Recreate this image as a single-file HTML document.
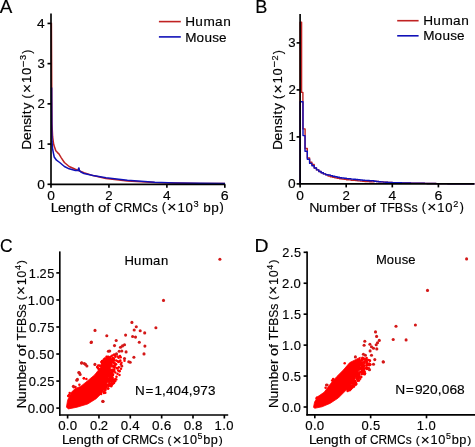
<!DOCTYPE html>
<html><head><meta charset="utf-8"><style>
html,body{margin:0;padding:0;background:#fff;width:475px;height:447px;overflow:hidden}
svg{display:block;will-change:transform}
text{font-family:"Liberation Sans", sans-serif;fill:#000;stroke:#000;stroke-width:0.15px}
</style></head><body>
<svg width="475" height="447" viewBox="0 0 475 447">
<rect width="475" height="447" fill="#fff"/>
<path d="M51.4,22.7 L51.6,60 L51.8,100 L52.0,124 L52.6,136.7 L53.7,144.5 L55.8,150.8 L57.5,152.6 L58.9,153.9 L61.3,157.8 L64.4,162.5 L69.1,166.5 L75.4,169.3 L84,172.7 L93,175.6 L106,178.6 L127.4,181.0 L154.7,182.6 L175,183.1 L200,183.4 L225,183.6" stroke="#c02222" stroke-width="1.5" fill="none" stroke-linejoin="round"/>
<path d="M51.6,87.6 L51.7,110 L51.8,130 L52.0,141.4 L52.6,149.2 L54.2,157 L56.5,160.2 L59.7,162.5 L64.4,166.5 L69.1,168.8 L75.4,170.4 L78.1,170.6 L78.6,168.2 L79.0,168.0 L79.4,170.6 L80.9,172 L84,173.5 L93,175.4 L106,177.7 L127.4,180.3 L154.7,182.2 L175,182.9 L200,183.3 L225,183.5" stroke="#1010b8" stroke-width="1.5" fill="none" stroke-linejoin="round"/>
<line x1="51.0" y1="13.4" x2="51.0" y2="185.05" stroke="#000" stroke-width="1.65"/>
<line x1="50.25" y1="184.3" x2="225.2" y2="184.3" stroke="#000" stroke-width="1.65"/>
<line x1="47.5" y1="184.3" x2="51.0" y2="184.3" stroke="#000" stroke-width="1.65"/>
<g transform="translate(44.20,188.85)"><text transform="scale(1.077,1)" xml:space="preserve"><tspan x="-6.49" y="0.00" font-size="12.78">0</tspan></text></g>
<line x1="47.5" y1="144.08" x2="51.0" y2="144.08" stroke="#000" stroke-width="1.65"/>
<g transform="translate(44.20,148.63)"><text transform="scale(1.028,1)" xml:space="preserve"><tspan x="-6.38" y="0.00" font-size="12.78">1</tspan></text></g>
<line x1="47.5" y1="103.86000000000001" x2="51.0" y2="103.86000000000001" stroke="#000" stroke-width="1.65"/>
<g transform="translate(44.20,108.41)"><text transform="scale(1.038,1)" xml:space="preserve"><tspan x="-6.35" y="0.00" font-size="12.78">2</tspan></text></g>
<line x1="47.5" y1="63.640000000000015" x2="51.0" y2="63.640000000000015" stroke="#000" stroke-width="1.65"/>
<g transform="translate(44.20,68.19)"><text transform="scale(1.034,1)" xml:space="preserve"><tspan x="-6.43" y="0.00" font-size="12.78">3</tspan></text></g>
<line x1="47.5" y1="23.420000000000016" x2="51.0" y2="23.420000000000016" stroke="#000" stroke-width="1.65"/>
<g transform="translate(44.20,27.97)"><text transform="scale(1.077,1)" xml:space="preserve"><tspan x="-6.61" y="0.00" font-size="12.78">4</tspan></text></g>
<line x1="51.0" y1="184.3" x2="51.0" y2="187.8" stroke="#000" stroke-width="1.65"/>
<g transform="translate(51.00,199.60)"><text transform="scale(1.077,1)" xml:space="preserve"><tspan x="-3.55" y="0.00" font-size="12.78">0</tspan></text></g>
<line x1="108.94" y1="184.3" x2="108.94" y2="187.8" stroke="#000" stroke-width="1.65"/>
<g transform="translate(108.94,199.60)"><text transform="scale(1.038,1)" xml:space="preserve"><tspan x="-3.55" y="0.00" font-size="12.78">2</tspan></text></g>
<line x1="166.88" y1="184.3" x2="166.88" y2="187.8" stroke="#000" stroke-width="1.65"/>
<g transform="translate(166.88,199.60)"><text transform="scale(1.077,1)" xml:space="preserve"><tspan x="-3.51" y="0.00" font-size="12.78">4</tspan></text></g>
<line x1="224.82" y1="184.3" x2="224.82" y2="187.8" stroke="#000" stroke-width="1.65"/>
<g transform="translate(224.82,199.60)"><text transform="scale(1.114,1)" xml:space="preserve"><tspan x="-3.60" y="0.00" font-size="12.78">6</tspan></text></g>
<g transform="translate(52.30,211.50)"><text transform="scale(1.123,1)" xml:space="preserve"><tspan x="-1.32 5.02 11.97 18.95 26.46 30.44 37.50" y="0.00" font-size="12.7">Length </tspan></text><text transform="scale(1.178,1)" xml:space="preserve"><tspan x="38.84 45.85 49.36" y="0.00" font-size="12.7">of </tspan></text><text transform="scale(0.974,1)" xml:space="preserve"><tspan x="63.56 72.78 81.85 92.50 101.89 108.32" y="0.00" font-size="12.7">CRMCs </tspan></text><text transform="scale(1.039,1)" xml:space="preserve"><tspan x="105.47" y="-0.19" font-size="12.07">(</tspan><tspan x="110.72" y="0.86" font-size="15.24">×</tspan><tspan x="120.44 128.16" y="0.00" font-size="12.7">10</tspan><tspan x="135.86" y="-4.59" font-size="8.89">3</tspan><tspan x="141.32" y="0.00" font-size="12.7"> </tspan></text><text transform="scale(1.067,1)" xml:space="preserve"><tspan x="141.54 148.97" y="0.00" font-size="12.7">bp</tspan><tspan x="156.74" y="-0.19" font-size="12.07">)</tspan></text></g>
<g transform="translate(31.00,148.30) rotate(-90)"><text transform="scale(1.095,1)" xml:space="preserve"><tspan x="-1.30 7.59 14.66 21.60 27.78 31.18 35.37 41.87" y="0.00" font-size="12.59">Density </tspan></text><text transform="scale(1.029,1)" xml:space="preserve"><tspan x="48.43" y="-0.19" font-size="11.96">(</tspan><tspan x="53.69" y="0.86" font-size="15.1">×</tspan><tspan x="63.40 71.12" y="0.00" font-size="12.59">10</tspan><tspan x="78.87" y="-3.95" font-size="11.01">−</tspan><tspan x="85.85" y="-4.59" font-size="8.81">3</tspan><tspan x="91.95" y="-0.19" font-size="11.96">)</tspan></text></g>
<line x1="158.9" y1="21.6" x2="180.8" y2="21.6" stroke="#c02222" stroke-width="1.6"/>
<line x1="158.9" y1="36.9" x2="180.8" y2="36.9" stroke="#1010b8" stroke-width="1.6"/>
<g transform="translate(186.80,26.40)"><text transform="scale(1.064,1)" xml:space="preserve"><tspan x="-1.35 7.92 15.74 26.44 34.32" y="0.00" font-size="12.83">Human</tspan></text></g>
<g transform="translate(186.80,41.90)"><text transform="scale(1.055,1)" xml:space="preserve"><tspan x="-1.36 9.24 16.67 24.05 30.43" y="0.00" font-size="12.83">Mouse</tspan></text></g>
<g transform="translate(0.10,13.00)"><text transform="scale(1.029,1)" xml:space="preserve" stroke="#000" stroke-width="0.35"><tspan x="-0.27" y="0.00" font-size="18.33">A</tspan></text></g>
<path d="M300.1,183.6 V22.3 H301.6 V92.4 H302.9 V128.9 H305.1 V148.5 H307.3 V158.0 H309.6 V162.2 H311.9 V164.5 H314.2 V168.0 H316.5 V169.9 H318.8 V171.5 H321.1 V172.7 H323.4 V173.9 H325.7 V174.7 H328.0 V176.1 H330.3 V176.7 H332.6 V177.3 H334.9 V177.9 H337.2 V178.4 H339.5 V178.8 H341.8 V179.1 H344.1 V179.4 H346.4 V179.7 H348.7 V179.9 H351.0 V180.2 H353.3 V180.4 H355.6 V180.6 H357.9 V180.9 H360.2 V181.1 H362.5 V181.3 H364.8 V181.5 H367.1 V181.6 H369.4 V181.8 H371.7 V181.9 H374.0 V181.3 H376.3 V181.5 H378.6 V181.7 H380.9 V181.9 H383.2 V182.1 H385.5 V182.3 H387.8 V182.4 H390.1 V182.5 H392.4 V182.6 H394.7 V182.6 H397.0 V182.7 H399.3 V182.8 H401.6 V182.9 H403.9 V182.9 H406.2 V183.0 H408.5 V183.0 H410.8 V183.1 H413.1 V183.1 H415.4 V183.2 H417.7 V183.2 H420.0 V183.3 H422.3 V183.3 H424.6 V183.4 H426.9 V183.5 H429.2 V183.5 H431.5 V183.5 H433.8 V183.5 H436.1 V183.6 H438.4 V183.6 H440.7 V183.6 H443.0 V183.6 H445.3 V183.6 H447.6 V183.7 H449.9 V183.7 H452.2 V183.7 H454.5 V183.7 H456.8 V183.8 H459.1 V183.8 H461.4 V183.8 H463.7 V183.8 H466.0 V183.8 H468.3 V183.9 H470.6 V183.9 H472.9 V183.9 H474.5" stroke="#c02222" stroke-width="1.4" fill="none" stroke-linejoin="round" stroke-linejoin="miter"/>
<path d="M300.1,183.6 V101.8 H303.0 V135.6 H305.0 V151.3 H307.3 V159.2 H309.6 V163.4 H311.9 V165.7 H314.2 V168.0 H316.5 V169.9 H318.8 V171.5 H321.1 V172.7 H323.4 V173.9 H325.7 V174.7 H328.0 V175.0 H330.3 V175.6 H332.6 V176.2 H334.9 V176.8 H337.2 V177.3 H339.5 V177.7 H341.8 V178.0 H344.1 V178.3 H346.4 V178.6 H348.7 V178.8 H351.0 V179.1 H353.3 V179.3 H355.6 V179.5 H357.9 V179.8 H360.2 V180.0 H362.5 V180.2 H364.8 V180.4 H367.1 V180.5 H369.4 V180.7 H371.7 V180.8 H374.0 V181.3 H376.3 V181.5 H378.6 V181.7 H380.9 V181.9 H383.2 V182.1 H385.5 V182.3 H387.8 V182.4 H390.1 V182.5 H392.4 V182.6 H394.7 V182.6 H397.0 V182.7 H399.3 V182.8 H401.6 V182.9 H403.9 V182.9 H406.2 V183.0 H408.5 V183.0 H410.8 V183.1 H413.1 V183.1 H415.4 V183.2 H417.7 V183.2 H420.0 V183.3 H422.3 V183.3 H424.6 V183.4 H426.9 V183.5 H429.2 V183.5 H431.5 V183.5 H433.8 V183.5 H436.1 V183.6 H438.4 V183.6 H440.7 V183.6 H443.0 V183.6 H445.3 V183.6 H447.6 V183.7 H449.9 V183.7 H452.2 V183.7 H454.5 V183.7 H456.8 V183.8 H459.1 V183.8 H461.4 V183.8 H463.7 V183.8 H466.0 V183.8 H468.3 V183.9 H470.6 V183.9 H472.9 V183.9 H474.5" stroke="#1010b8" stroke-width="1.4" fill="none" stroke-linejoin="round" stroke-linejoin="miter"/>
<line x1="300.1" y1="14.0" x2="300.1" y2="184.65" stroke="#000" stroke-width="1.65"/>
<line x1="299.35" y1="183.9" x2="474.4" y2="183.9" stroke="#000" stroke-width="1.65"/>
<line x1="296.6" y1="183.9" x2="300.1" y2="183.9" stroke="#000" stroke-width="1.65"/>
<g transform="translate(295.00,188.45)"><text transform="scale(1.077,1)" xml:space="preserve"><tspan x="-6.49" y="0.00" font-size="12.78">0</tspan></text></g>
<line x1="296.6" y1="136.9" x2="300.1" y2="136.9" stroke="#000" stroke-width="1.65"/>
<g transform="translate(295.00,141.45)"><text transform="scale(1.028,1)" xml:space="preserve"><tspan x="-6.38" y="0.00" font-size="12.78">1</tspan></text></g>
<line x1="296.6" y1="89.9" x2="300.1" y2="89.9" stroke="#000" stroke-width="1.65"/>
<g transform="translate(295.00,94.45)"><text transform="scale(1.038,1)" xml:space="preserve"><tspan x="-6.35" y="0.00" font-size="12.78">2</tspan></text></g>
<line x1="296.6" y1="42.900000000000006" x2="300.1" y2="42.900000000000006" stroke="#000" stroke-width="1.65"/>
<g transform="translate(295.00,47.45)"><text transform="scale(1.034,1)" xml:space="preserve"><tspan x="-6.43" y="0.00" font-size="12.78">3</tspan></text></g>
<line x1="300.1" y1="183.9" x2="300.1" y2="187.4" stroke="#000" stroke-width="1.65"/>
<g transform="translate(300.10,199.50)"><text transform="scale(1.077,1)" xml:space="preserve"><tspan x="-3.55" y="0.00" font-size="12.78">0</tspan></text></g>
<line x1="346.20000000000005" y1="183.9" x2="346.20000000000005" y2="187.4" stroke="#000" stroke-width="1.65"/>
<g transform="translate(346.20,199.50)"><text transform="scale(1.038,1)" xml:space="preserve"><tspan x="-3.55" y="0.00" font-size="12.78">2</tspan></text></g>
<line x1="392.3" y1="183.9" x2="392.3" y2="187.4" stroke="#000" stroke-width="1.65"/>
<g transform="translate(392.30,199.50)"><text transform="scale(1.077,1)" xml:space="preserve"><tspan x="-3.51" y="0.00" font-size="12.78">4</tspan></text></g>
<line x1="438.40000000000003" y1="183.9" x2="438.40000000000003" y2="187.4" stroke="#000" stroke-width="1.65"/>
<g transform="translate(438.40,199.50)"><text transform="scale(1.114,1)" xml:space="preserve"><tspan x="-3.60" y="0.00" font-size="12.78">6</tspan></text></g>
<g transform="translate(310.90,211.50)"><text transform="scale(1.119,1)" xml:space="preserve"><tspan x="-1.51 7.24 14.52 25.30 32.25 39.57 43.79" y="0.00" font-size="12.69">Number </tspan></text><text transform="scale(1.178,1)" xml:space="preserve"><tspan x="44.68 51.69 55.20" y="0.00" font-size="12.69">of </tspan></text><text transform="scale(0.977,1)" xml:space="preserve"><tspan x="70.67 78.25 85.96 94.49 102.97 109.40" y="0.00" font-size="12.69">TFBSs </tspan></text><text transform="scale(1.025,1)" xml:space="preserve"><tspan x="108.19" y="-0.19" font-size="12.06">(</tspan><tspan x="113.53" y="0.86" font-size="15.23">×</tspan><tspan x="123.38 131.20" y="0.00" font-size="12.69">10</tspan><tspan x="138.86" y="-4.59" font-size="8.89">2</tspan><tspan x="145.16" y="-0.19" font-size="12.06">)</tspan></text></g>
<g transform="translate(282.40,148.70) rotate(-90)"><text transform="scale(1.095,1)" xml:space="preserve"><tspan x="-1.31 7.59 14.65 21.59 27.78 31.18 35.37 41.87" y="0.00" font-size="12.65">Density </tspan></text><text transform="scale(1.029,1)" xml:space="preserve"><tspan x="48.40" y="-0.19" font-size="12.02">(</tspan><tspan x="53.66" y="0.86" font-size="15.18">×</tspan><tspan x="63.37 71.08" y="0.00" font-size="12.65">10</tspan><tspan x="78.83" y="-3.95" font-size="11.07">−</tspan><tspan x="85.69" y="-4.59" font-size="8.86">2</tspan><tspan x="91.91" y="-0.19" font-size="12.02">)</tspan></text></g>
<line x1="397.2" y1="20.7" x2="418.6" y2="20.7" stroke="#c02222" stroke-width="1.6"/>
<line x1="397.2" y1="35.8" x2="418.6" y2="35.8" stroke="#1010b8" stroke-width="1.6"/>
<g transform="translate(424.80,24.90)"><text transform="scale(1.064,1)" xml:space="preserve"><tspan x="-1.35 7.92 15.74 26.44 34.32" y="0.00" font-size="12.83">Human</tspan></text></g>
<g transform="translate(424.80,40.40)"><text transform="scale(1.055,1)" xml:space="preserve"><tspan x="-1.36 9.24 16.67 24.05 30.43" y="0.00" font-size="12.83">Mouse</tspan></text></g>
<g transform="translate(256.90,12.90)"><text transform="scale(0.992,1)" xml:space="preserve" stroke="#000" stroke-width="0.35"><tspan x="-1.69" y="0.00" font-size="18.33">B</tspan></text></g>
<polygon points="66.4,407.2 67.6,400.2 71.1,392.6 74.9,388.8 80.9,386.2 87.1,381.2 94.5,375.0 100.6,367.4 104.7,359.4 108.9,357.2 111.0,362.6 110.0,373.2 106.8,383.8 102.6,392.3 96.2,398.7 87.7,404.0 77.0,407.2 68.5,408.9" fill="#ff0000" stroke="#ff0000" stroke-width="0.8" stroke-linejoin="round"/>
<circle cx="115.4" cy="356.8" r="1.25" fill="#ff0000"/>
<circle cx="114.3" cy="367.0" r="1.25" fill="#ff0000"/>
<circle cx="108.2" cy="388.4" r="1.25" fill="#ff0000"/>
<circle cx="109.5" cy="380.9" r="1.25" fill="#ff0000"/>
<circle cx="111.7" cy="370.6" r="1.25" fill="#ff0000"/>
<circle cx="113.8" cy="366.3" r="1.25" fill="#ff0000"/>
<circle cx="108.6" cy="380.3" r="1.25" fill="#ff0000"/>
<circle cx="110.3" cy="376.4" r="1.25" fill="#ff0000"/>
<circle cx="109.4" cy="385.0" r="1.25" fill="#ff0000"/>
<circle cx="112.2" cy="377.6" r="1.25" fill="#ff0000"/>
<circle cx="108.9" cy="378.9" r="1.25" fill="#ff0000"/>
<circle cx="115.1" cy="381.2" r="1.25" fill="#ff0000"/>
<circle cx="106.9" cy="384.4" r="1.25" fill="#ff0000"/>
<circle cx="114.4" cy="367.8" r="1.25" fill="#ff0000"/>
<circle cx="114.5" cy="366.9" r="1.25" fill="#ff0000"/>
<circle cx="118.8" cy="367.3" r="1.25" fill="#ff0000"/>
<circle cx="120.9" cy="364.3" r="1.25" fill="#ff0000"/>
<circle cx="109.5" cy="384.0" r="1.25" fill="#ff0000"/>
<circle cx="121.0" cy="368.8" r="1.25" fill="#ff0000"/>
<circle cx="105.1" cy="388.1" r="1.25" fill="#ff0000"/>
<circle cx="124.5" cy="360.7" r="1.25" fill="#ff0000"/>
<circle cx="112.1" cy="366.4" r="1.25" fill="#ff0000"/>
<circle cx="114.2" cy="369.5" r="1.25" fill="#ff0000"/>
<circle cx="107.8" cy="357.4" r="1.25" fill="#ff0000"/>
<circle cx="115.3" cy="372.6" r="1.25" fill="#ff0000"/>
<circle cx="111.4" cy="384.2" r="1.25" fill="#ff0000"/>
<circle cx="117.5" cy="373.8" r="1.25" fill="#ff0000"/>
<circle cx="112.6" cy="383.9" r="1.25" fill="#ff0000"/>
<circle cx="120.0" cy="355.9" r="1.25" fill="#ff0000"/>
<circle cx="111.9" cy="384.8" r="1.25" fill="#ff0000"/>
<circle cx="97.9" cy="367.9" r="1.25" fill="#ff0000"/>
<circle cx="108.8" cy="386.1" r="1.25" fill="#ff0000"/>
<circle cx="114.1" cy="365.5" r="1.25" fill="#ff0000"/>
<circle cx="110.9" cy="379.8" r="1.25" fill="#ff0000"/>
<circle cx="118.6" cy="357.7" r="1.25" fill="#ff0000"/>
<circle cx="114.0" cy="383.0" r="1.25" fill="#ff0000"/>
<circle cx="111.1" cy="363.0" r="1.25" fill="#ff0000"/>
<circle cx="112.9" cy="359.1" r="1.25" fill="#ff0000"/>
<circle cx="112.6" cy="358.9" r="1.25" fill="#ff0000"/>
<circle cx="106.9" cy="384.9" r="1.25" fill="#ff0000"/>
<circle cx="99.5" cy="365.6" r="1.25" fill="#ff0000"/>
<circle cx="118.5" cy="361.9" r="1.25" fill="#ff0000"/>
<circle cx="113.6" cy="362.7" r="1.25" fill="#ff0000"/>
<circle cx="112.4" cy="355.6" r="1.25" fill="#ff0000"/>
<circle cx="119.5" cy="374.9" r="1.25" fill="#ff0000"/>
<circle cx="102.2" cy="360.9" r="1.25" fill="#ff0000"/>
<circle cx="119.5" cy="371.3" r="1.25" fill="#ff0000"/>
<circle cx="112.4" cy="379.6" r="1.25" fill="#ff0000"/>
<circle cx="102.1" cy="363.0" r="1.25" fill="#ff0000"/>
<circle cx="110.7" cy="361.1" r="1.25" fill="#ff0000"/>
<circle cx="104.2" cy="389.0" r="1.25" fill="#ff0000"/>
<circle cx="106.7" cy="358.0" r="1.25" fill="#ff0000"/>
<circle cx="97.1" cy="367.1" r="1.25" fill="#ff0000"/>
<circle cx="110.9" cy="365.6" r="1.25" fill="#ff0000"/>
<circle cx="116.1" cy="364.3" r="1.25" fill="#ff0000"/>
<circle cx="114.2" cy="354.5" r="1.25" fill="#ff0000"/>
<circle cx="112.6" cy="362.1" r="1.25" fill="#ff0000"/>
<circle cx="109.8" cy="358.8" r="1.25" fill="#ff0000"/>
<circle cx="110.4" cy="385.3" r="1.25" fill="#ff0000"/>
<circle cx="114.8" cy="363.2" r="1.25" fill="#ff0000"/>
<circle cx="109.4" cy="357.6" r="1.25" fill="#ff0000"/>
<circle cx="101.1" cy="394.0" r="1.25" fill="#ff0000"/>
<circle cx="106.7" cy="385.9" r="1.25" fill="#ff0000"/>
<circle cx="104.9" cy="358.4" r="1.25" fill="#ff0000"/>
<circle cx="112.3" cy="377.3" r="1.25" fill="#ff0000"/>
<circle cx="112.6" cy="361.1" r="1.25" fill="#ff0000"/>
<circle cx="112.9" cy="358.0" r="1.25" fill="#ff0000"/>
<circle cx="103.7" cy="359.8" r="1.25" fill="#ff0000"/>
<circle cx="101.3" cy="361.9" r="1.25" fill="#ff0000"/>
<circle cx="113.0" cy="375.0" r="1.25" fill="#ff0000"/>
<circle cx="98.2" cy="365.5" r="1.25" fill="#ff0000"/>
<circle cx="119.5" cy="361.6" r="1.25" fill="#ff0000"/>
<circle cx="112.6" cy="370.4" r="1.25" fill="#ff0000"/>
<circle cx="111.0" cy="384.2" r="1.25" fill="#ff0000"/>
<circle cx="110.4" cy="377.1" r="1.25" fill="#ff0000"/>
<circle cx="101.2" cy="365.4" r="1.25" fill="#ff0000"/>
<circle cx="104.4" cy="359.3" r="1.25" fill="#ff0000"/>
<circle cx="110.0" cy="374.5" r="1.25" fill="#ff0000"/>
<circle cx="112.4" cy="373.0" r="1.25" fill="#ff0000"/>
<circle cx="111.7" cy="371.2" r="1.25" fill="#ff0000"/>
<circle cx="114.1" cy="360.3" r="1.25" fill="#ff0000"/>
<circle cx="109.7" cy="383.3" r="1.25" fill="#ff0000"/>
<circle cx="109.4" cy="381.0" r="1.25" fill="#ff0000"/>
<circle cx="112.2" cy="378.7" r="1.25" fill="#ff0000"/>
<circle cx="116.5" cy="376.7" r="1.25" fill="#ff0000"/>
<circle cx="105.3" cy="392.7" r="1.25" fill="#ff0000"/>
<circle cx="112.5" cy="380.7" r="1.25" fill="#ff0000"/>
<circle cx="117.5" cy="368.6" r="1.25" fill="#ff0000"/>
<circle cx="106.5" cy="385.5" r="1.25" fill="#ff0000"/>
<circle cx="109.8" cy="375.2" r="1.25" fill="#ff0000"/>
<circle cx="121.5" cy="362.7" r="1.25" fill="#ff0000"/>
<circle cx="113.4" cy="370.6" r="1.25" fill="#ff0000"/>
<circle cx="113.9" cy="358.6" r="1.25" fill="#ff0000"/>
<circle cx="111.7" cy="361.2" r="1.25" fill="#ff0000"/>
<circle cx="108.3" cy="356.8" r="1.25" fill="#ff0000"/>
<circle cx="110.8" cy="372.7" r="1.25" fill="#ff0000"/>
<circle cx="111.8" cy="362.6" r="1.25" fill="#ff0000"/>
<circle cx="114.2" cy="370.7" r="1.25" fill="#ff0000"/>
<circle cx="111.0" cy="385.8" r="1.25" fill="#ff0000"/>
<circle cx="117.7" cy="361.3" r="1.25" fill="#ff0000"/>
<circle cx="108.0" cy="388.6" r="1.25" fill="#ff0000"/>
<circle cx="116.7" cy="368.0" r="1.25" fill="#ff0000"/>
<circle cx="112.9" cy="379.7" r="1.25" fill="#ff0000"/>
<circle cx="112.2" cy="372.3" r="1.25" fill="#ff0000"/>
<circle cx="111.5" cy="374.6" r="1.25" fill="#ff0000"/>
<circle cx="111.8" cy="381.1" r="1.25" fill="#ff0000"/>
<circle cx="109.1" cy="384.6" r="1.25" fill="#ff0000"/>
<circle cx="114.7" cy="355.2" r="1.25" fill="#ff0000"/>
<circle cx="114.1" cy="380.3" r="1.25" fill="#ff0000"/>
<circle cx="103.9" cy="392.0" r="1.25" fill="#ff0000"/>
<circle cx="103.1" cy="362.5" r="1.25" fill="#ff0000"/>
<circle cx="110.8" cy="370.3" r="1.25" fill="#ff0000"/>
<circle cx="108.2" cy="381.8" r="1.25" fill="#ff0000"/>
<circle cx="113.4" cy="371.1" r="1.25" fill="#ff0000"/>
<circle cx="113.3" cy="359.0" r="1.25" fill="#ff0000"/>
<circle cx="116.3" cy="379.5" r="1.25" fill="#ff0000"/>
<circle cx="111.0" cy="359.2" r="1.25" fill="#ff0000"/>
<circle cx="112.9" cy="374.6" r="1.25" fill="#ff0000"/>
<circle cx="110.0" cy="374.3" r="1.25" fill="#ff0000"/>
<circle cx="109.8" cy="376.4" r="1.25" fill="#ff0000"/>
<circle cx="112.1" cy="384.0" r="1.25" fill="#ff0000"/>
<circle cx="106.4" cy="386.9" r="1.25" fill="#ff0000"/>
<circle cx="99.1" cy="369.1" r="1.25" fill="#ff0000"/>
<circle cx="105.2" cy="390.5" r="1.25" fill="#ff0000"/>
<circle cx="111.0" cy="373.0" r="1.25" fill="#ff0000"/>
<circle cx="110.1" cy="378.3" r="1.25" fill="#ff0000"/>
<circle cx="109.6" cy="375.0" r="1.25" fill="#ff0000"/>
<circle cx="106.6" cy="356.8" r="1.25" fill="#ff0000"/>
<circle cx="100.4" cy="366.3" r="1.25" fill="#ff0000"/>
<circle cx="114.0" cy="360.4" r="1.25" fill="#ff0000"/>
<circle cx="111.1" cy="362.4" r="1.25" fill="#ff0000"/>
<circle cx="119.5" cy="370.9" r="1.25" fill="#ff0000"/>
<circle cx="109.5" cy="381.6" r="1.25" fill="#ff0000"/>
<circle cx="112.2" cy="370.1" r="1.25" fill="#ff0000"/>
<circle cx="115.3" cy="379.1" r="1.25" fill="#ff0000"/>
<circle cx="111.1" cy="356.5" r="1.25" fill="#ff0000"/>
<circle cx="105.7" cy="389.0" r="1.25" fill="#ff0000"/>
<circle cx="114.0" cy="381.0" r="1.25" fill="#ff0000"/>
<circle cx="102.1" cy="363.7" r="1.25" fill="#ff0000"/>
<circle cx="102.2" cy="361.3" r="1.25" fill="#ff0000"/>
<circle cx="98.7" cy="369.1" r="1.25" fill="#ff0000"/>
<circle cx="111.5" cy="360.6" r="1.25" fill="#ff0000"/>
<circle cx="107.0" cy="357.0" r="1.25" fill="#ff0000"/>
<circle cx="115.4" cy="355.1" r="1.25" fill="#ff0000"/>
<circle cx="108.7" cy="379.9" r="1.25" fill="#ff0000"/>
<circle cx="110.6" cy="384.0" r="1.25" fill="#ff0000"/>
<circle cx="118.2" cy="370.5" r="1.25" fill="#ff0000"/>
<circle cx="112.9" cy="381.0" r="1.25" fill="#ff0000"/>
<circle cx="114.9" cy="365.2" r="1.25" fill="#ff0000"/>
<circle cx="110.8" cy="376.4" r="1.25" fill="#ff0000"/>
<circle cx="120.3" cy="360.6" r="1.25" fill="#ff0000"/>
<circle cx="111.2" cy="386.3" r="1.25" fill="#ff0000"/>
<circle cx="109.8" cy="377.7" r="1.25" fill="#ff0000"/>
<circle cx="103.6" cy="361.5" r="1.25" fill="#ff0000"/>
<circle cx="102.3" cy="361.4" r="1.25" fill="#ff0000"/>
<circle cx="105.4" cy="387.5" r="1.25" fill="#ff0000"/>
<circle cx="111.8" cy="383.1" r="1.25" fill="#ff0000"/>
<circle cx="112.2" cy="369.7" r="1.25" fill="#ff0000"/>
<circle cx="120.7" cy="357.3" r="1.25" fill="#ff0000"/>
<circle cx="117.7" cy="356.4" r="1.25" fill="#ff0000"/>
<circle cx="103.9" cy="392.9" r="1.25" fill="#ff0000"/>
<circle cx="111.7" cy="365.1" r="1.25" fill="#ff0000"/>
<circle cx="109.8" cy="374.3" r="1.25" fill="#ff0000"/>
<circle cx="109.9" cy="357.6" r="1.25" fill="#ff0000"/>
<circle cx="116.2" cy="360.6" r="1.25" fill="#ff0000"/>
<circle cx="108.3" cy="379.9" r="1.25" fill="#ff0000"/>
<circle cx="110.1" cy="381.3" r="1.25" fill="#ff0000"/>
<circle cx="111.9" cy="375.6" r="1.25" fill="#ff0000"/>
<circle cx="111.6" cy="379.8" r="1.25" fill="#ff0000"/>
<circle cx="112.9" cy="379.4" r="1.25" fill="#ff0000"/>
<circle cx="69.7" cy="393.0" r="1.25" fill="#ff0000"/>
<circle cx="68.9" cy="395.2" r="1.25" fill="#ff0000"/>
<circle cx="75.5" cy="387.0" r="1.25" fill="#ff0000"/>
<circle cx="73.9" cy="387.3" r="1.25" fill="#ff0000"/>
<circle cx="83.9" cy="378.3" r="1.25" fill="#ff0000"/>
<circle cx="86.4" cy="379.1" r="1.25" fill="#ff0000"/>
<circle cx="83.9" cy="378.2" r="1.25" fill="#ff0000"/>
<circle cx="79.4" cy="384.7" r="1.25" fill="#ff0000"/>
<circle cx="68.2" cy="396.1" r="1.25" fill="#ff0000"/>
<circle cx="69.1" cy="395.3" r="1.25" fill="#ff0000"/>
<circle cx="219.9" cy="259.3" r="1.55" fill="#d41818"/>
<circle cx="163.5" cy="300.4" r="1.55" fill="#d41818"/>
<circle cx="155.9" cy="327.8" r="1.55" fill="#d41818"/>
<circle cx="131.9" cy="322.4" r="1.55" fill="#d41818"/>
<circle cx="136.3" cy="326.8" r="1.55" fill="#d41818"/>
<circle cx="134.2" cy="330" r="1.55" fill="#d41818"/>
<circle cx="140.2" cy="330.8" r="1.55" fill="#d41818"/>
<circle cx="144.7" cy="332.9" r="1.55" fill="#d41818"/>
<circle cx="125.6" cy="335.1" r="1.55" fill="#d41818"/>
<circle cx="106.8" cy="335.8" r="1.55" fill="#d41818"/>
<circle cx="132.6" cy="336.5" r="1.55" fill="#d41818"/>
<circle cx="135.5" cy="337.1" r="1.55" fill="#d41818"/>
<circle cx="95" cy="330.4" r="1.55" fill="#d41818"/>
<circle cx="116.2" cy="340.5" r="1.55" fill="#d41818"/>
<circle cx="139.3" cy="342.2" r="1.55" fill="#d41818"/>
<circle cx="114.5" cy="345.6" r="1.55" fill="#d41818"/>
<circle cx="120.5" cy="347.2" r="1.55" fill="#d41818"/>
<circle cx="122.5" cy="345.9" r="1.55" fill="#d41818"/>
<circle cx="124.5" cy="344.8" r="1.55" fill="#d41818"/>
<circle cx="144.9" cy="346.1" r="1.55" fill="#d41818"/>
<circle cx="108.4" cy="351.2" r="1.55" fill="#d41818"/>
<circle cx="119.2" cy="351.2" r="1.55" fill="#d41818"/>
<circle cx="121.8" cy="351" r="1.55" fill="#d41818"/>
<circle cx="126.1" cy="351.9" r="1.55" fill="#d41818"/>
<circle cx="144" cy="353.9" r="1.55" fill="#d41818"/>
<circle cx="133.9" cy="357.3" r="1.55" fill="#d41818"/>
<circle cx="130.2" cy="362.2" r="1.55" fill="#d41818"/>
<circle cx="116.5" cy="353.9" r="1.55" fill="#d41818"/>
<circle cx="124.5" cy="358.6" r="1.55" fill="#d41818"/>
<circle cx="121.8" cy="366" r="1.55" fill="#d41818"/>
<circle cx="91.4" cy="342.1" r="1.55" fill="#d41818"/>
<circle cx="81.5" cy="363.1" r="1.55" fill="#d41818"/>
<circle cx="85.5" cy="364.4" r="1.55" fill="#d41818"/>
<circle cx="78.8" cy="372.5" r="1.55" fill="#d41818"/>
<circle cx="77.4" cy="379.2" r="1.55" fill="#d41818"/>
<circle cx="103" cy="401.5" r="1.55" fill="#d41818"/>
<circle cx="94.9" cy="364.4" r="1.55" fill="#d41818"/>
<circle cx="109.7" cy="351" r="1.55" fill="#d41818"/>
<circle cx="91.1" cy="342.5" r="1.55" fill="#d41818"/>
<circle cx="81.8" cy="362.7" r="1.55" fill="#d41818"/>
<circle cx="84.3" cy="363.5" r="1.55" fill="#d41818"/>
<circle cx="86.9" cy="366" r="1.55" fill="#d41818"/>
<circle cx="79.3" cy="372.7" r="1.55" fill="#d41818"/>
<circle cx="80.1" cy="374.4" r="1.55" fill="#d41818"/>
<circle cx="76.8" cy="380.3" r="1.55" fill="#d41818"/>
<circle cx="73.4" cy="386.2" r="1.55" fill="#d41818"/>
<circle cx="102.8" cy="401.3" r="1.55" fill="#d41818"/>
<circle cx="128.8" cy="361.8" r="1.55" fill="#d41818"/>
<line x1="59.8" y1="251.4" x2="59.8" y2="415.75" stroke="#000" stroke-width="1.65"/>
<line x1="59.05" y1="415.0" x2="228.2" y2="415.0" stroke="#000" stroke-width="1.65"/>
<line x1="56.3" y1="408.1" x2="59.8" y2="408.1" stroke="#000" stroke-width="1.65"/>
<g transform="translate(53.70,412.85)"><text transform="scale(1.079,1)" xml:space="preserve"><tspan x="-24.13 -17.05 -13.41 -6.25" y="0.00" font-size="12.32">0.00</tspan></text></g>
<line x1="56.3" y1="381.06" x2="59.8" y2="381.06" stroke="#000" stroke-width="1.65"/>
<g transform="translate(53.70,385.81)"><text transform="scale(1.048,1)" xml:space="preserve"><tspan x="-23.90 -16.67 -13.61 -6.14" y="0.00" font-size="12.32">0.25</tspan></text></g>
<line x1="56.3" y1="354.02000000000004" x2="59.8" y2="354.02000000000004" stroke="#000" stroke-width="1.65"/>
<g transform="translate(53.70,358.77)"><text transform="scale(1.060,1)" xml:space="preserve"><tspan x="-24.50 -17.33 -13.63 -6.30" y="0.00" font-size="12.32">0.50</tspan></text></g>
<line x1="56.3" y1="326.98" x2="59.8" y2="326.98" stroke="#000" stroke-width="1.65"/>
<g transform="translate(53.70,331.73)"><text transform="scale(1.052,1)" xml:space="preserve"><tspan x="-23.45 -16.24 -13.43 -6.13" y="0.00" font-size="12.32">0.75</tspan></text></g>
<line x1="56.3" y1="299.94000000000005" x2="59.8" y2="299.94000000000005" stroke="#000" stroke-width="1.65"/>
<g transform="translate(53.70,304.69)"><text transform="scale(1.065,1)" xml:space="preserve"><tspan x="-24.47 -17.25 -13.54 -6.29" y="0.00" font-size="12.32">1.00</tspan></text></g>
<line x1="56.3" y1="272.90000000000003" x2="59.8" y2="272.90000000000003" stroke="#000" stroke-width="1.65"/>
<g transform="translate(53.70,277.65)"><text transform="scale(1.032,1)" xml:space="preserve"><tspan x="-24.27 -16.89 -13.76 -6.18" y="0.00" font-size="12.32">1.25</tspan></text></g>
<line x1="67.6" y1="415.0" x2="67.6" y2="418.5" stroke="#000" stroke-width="1.65"/>
<g transform="translate(67.60,430.30)"><text transform="scale(1.079,1)" xml:space="preserve"><tspan x="-8.78 -1.71 1.93" y="0.00" font-size="12.32">0.0</tspan></text></g>
<line x1="98.94999999999999" y1="415.0" x2="98.94999999999999" y2="418.5" stroke="#000" stroke-width="1.65"/>
<g transform="translate(98.95,430.30)"><text transform="scale(1.062,1)" xml:space="preserve"><tspan x="-8.39 -1.22 1.77" y="0.00" font-size="12.32">0.2</tspan></text></g>
<line x1="130.3" y1="415.0" x2="130.3" y2="418.5" stroke="#000" stroke-width="1.65"/>
<g transform="translate(130.30,430.30)"><text transform="scale(1.079,1)" xml:space="preserve"><tspan x="-8.84 -1.77 1.88" y="0.00" font-size="12.32">0.4</tspan></text></g>
<line x1="161.65" y1="415.0" x2="161.65" y2="418.5" stroke="#000" stroke-width="1.65"/>
<g transform="translate(161.65,430.30)"><text transform="scale(1.096,1)" xml:space="preserve"><tspan x="-8.72 -1.73 1.83" y="0.00" font-size="12.32">0.6</tspan></text></g>
<line x1="193.0" y1="415.0" x2="193.0" y2="418.5" stroke="#000" stroke-width="1.65"/>
<g transform="translate(193.00,430.30)"><text transform="scale(1.085,1)" xml:space="preserve"><tspan x="-8.58 -1.53 1.75" y="0.00" font-size="12.32">0.8</tspan></text></g>
<line x1="224.35" y1="415.0" x2="224.35" y2="418.5" stroke="#000" stroke-width="1.65"/>
<g transform="translate(224.35,430.30)"><text transform="scale(1.059,1)" xml:space="preserve"><tspan x="-9.21 -1.96 1.79" y="0.00" font-size="12.32">1.0</tspan></text></g>
<g transform="translate(63.50,443.70)"><text transform="scale(1.123,1)" xml:space="preserve"><tspan x="-1.26 4.76 11.37 18.00 25.13 28.91 35.62" y="0.00" font-size="12.12">Length </tspan></text><text transform="scale(1.178,1)" xml:space="preserve"><tspan x="36.89 43.55 46.89" y="0.00" font-size="12.12">of </tspan></text><text transform="scale(0.974,1)" xml:space="preserve"><tspan x="60.37 69.13 77.75 87.87 96.79 102.90" y="0.00" font-size="12.12">CRMCs </tspan></text><text transform="scale(1.047,1)" xml:space="preserve"><tspan x="99.37" y="-0.18" font-size="11.51">(</tspan><tspan x="104.30" y="0.82" font-size="14.54">×</tspan><tspan x="113.47 120.75" y="0.00" font-size="12.12">10</tspan><tspan x="127.97" y="-4.59" font-size="8.48">5</tspan><tspan x="133.50 140.70" y="0.00" font-size="12.12">bp</tspan><tspan x="148.18" y="-0.18" font-size="11.51">)</tspan></text></g>
<g transform="translate(25.50,406.70) rotate(-90)"><text transform="scale(1.119,1)" xml:space="preserve"><tspan x="-1.46 6.95 13.93 24.28 30.95 37.98 42.03" y="0.00" font-size="12.28">Number </tspan></text><text transform="scale(1.178,1)" xml:space="preserve"><tspan x="42.89 49.61 52.99" y="0.00" font-size="12.28">of </tspan></text><text transform="scale(0.977,1)" xml:space="preserve"><tspan x="67.83 75.11 82.51 90.70 98.84 105.02" y="0.00" font-size="12.28">TFBSs </tspan></text><text transform="scale(1.031,1)" xml:space="preserve"><tspan x="103.22" y="-0.18" font-size="11.66">(</tspan><tspan x="108.31" y="0.83" font-size="14.73">×</tspan><tspan x="117.71 125.17" y="0.00" font-size="12.28">10</tspan><tspan x="132.60" y="-4.59" font-size="8.59">4</tspan><tspan x="138.52" y="-0.18" font-size="11.66">)</tspan></text></g>
<g transform="translate(125.90,264.70)"><text transform="scale(1.064,1)" xml:space="preserve"><tspan x="-1.29 7.61 15.11 25.40 32.96" y="0.00" font-size="12.32">Human</tspan></text></g>
<g transform="translate(136.60,394.70)"><text transform="scale(1.104,1)" xml:space="preserve"><tspan x="-1.42 8.05 16.16 23.00 26.60 33.51 40.43 47.21 50.77 57.69 64.65" y="0.00" font-size="12.22">N=1,404,973</tspan></text></g>
<g transform="translate(1.10,252.30)"><text transform="scale(0.948,1)" xml:space="preserve" stroke="#000" stroke-width="0.35"><tspan x="-1.15" y="0.00" font-size="18.33">C</tspan></text></g>
<polygon points="313.5,407.2 314.6,401.9 317.8,396.6 324.1,392.3 330.5,383.8 336.9,376.4 343.3,370.0 349.7,362.6 356.0,359.4 360.3,357.2 359.6,362.6 358.5,372.5 354.2,381.0 346.8,389.5 338.3,398.0 330.0,403.4 322.0,406.8 314.6,408.3" fill="#ff0000" stroke="#ff0000" stroke-width="0.8" stroke-linejoin="round"/>
<circle cx="362.6" cy="357.8" r="1.25" fill="#ff0000"/>
<circle cx="366.8" cy="359.7" r="1.25" fill="#ff0000"/>
<circle cx="362.3" cy="369.2" r="1.25" fill="#ff0000"/>
<circle cx="361.1" cy="372.2" r="1.25" fill="#ff0000"/>
<circle cx="361.3" cy="377.0" r="1.25" fill="#ff0000"/>
<circle cx="358.4" cy="380.2" r="1.25" fill="#ff0000"/>
<circle cx="365.4" cy="359.9" r="1.25" fill="#ff0000"/>
<circle cx="370.0" cy="360.7" r="1.25" fill="#ff0000"/>
<circle cx="358.6" cy="377.4" r="1.25" fill="#ff0000"/>
<circle cx="348.3" cy="389.2" r="1.25" fill="#ff0000"/>
<circle cx="361.7" cy="360.6" r="1.25" fill="#ff0000"/>
<circle cx="358.2" cy="373.4" r="1.25" fill="#ff0000"/>
<circle cx="353.4" cy="386.5" r="1.25" fill="#ff0000"/>
<circle cx="347.6" cy="391.1" r="1.25" fill="#ff0000"/>
<circle cx="363.7" cy="364.9" r="1.25" fill="#ff0000"/>
<circle cx="365.0" cy="373.2" r="1.25" fill="#ff0000"/>
<circle cx="364.4" cy="361.5" r="1.25" fill="#ff0000"/>
<circle cx="366.8" cy="363.0" r="1.25" fill="#ff0000"/>
<circle cx="361.1" cy="364.9" r="1.25" fill="#ff0000"/>
<circle cx="350.1" cy="389.6" r="1.25" fill="#ff0000"/>
<circle cx="359.0" cy="375.2" r="1.25" fill="#ff0000"/>
<circle cx="361.7" cy="374.2" r="1.25" fill="#ff0000"/>
<circle cx="359.4" cy="367.9" r="1.25" fill="#ff0000"/>
<circle cx="354.6" cy="382.4" r="1.25" fill="#ff0000"/>
<circle cx="360.3" cy="371.7" r="1.25" fill="#ff0000"/>
<circle cx="366.7" cy="364.8" r="1.25" fill="#ff0000"/>
<circle cx="363.8" cy="358.4" r="1.25" fill="#ff0000"/>
<circle cx="363.5" cy="371.2" r="1.25" fill="#ff0000"/>
<circle cx="348.6" cy="387.8" r="1.25" fill="#ff0000"/>
<circle cx="369.2" cy="365.2" r="1.25" fill="#ff0000"/>
<circle cx="359.6" cy="364.1" r="1.25" fill="#ff0000"/>
<circle cx="354.3" cy="383.9" r="1.25" fill="#ff0000"/>
<circle cx="349.0" cy="387.0" r="1.25" fill="#ff0000"/>
<circle cx="363.1" cy="365.7" r="1.25" fill="#ff0000"/>
<circle cx="358.4" cy="374.1" r="1.25" fill="#ff0000"/>
<circle cx="349.5" cy="386.8" r="1.25" fill="#ff0000"/>
<circle cx="363.3" cy="373.6" r="1.25" fill="#ff0000"/>
<circle cx="359.1" cy="375.3" r="1.25" fill="#ff0000"/>
<circle cx="353.4" cy="382.7" r="1.25" fill="#ff0000"/>
<circle cx="358.9" cy="369.5" r="1.25" fill="#ff0000"/>
<circle cx="353.1" cy="383.2" r="1.25" fill="#ff0000"/>
<circle cx="349.8" cy="389.0" r="1.25" fill="#ff0000"/>
<circle cx="361.1" cy="368.7" r="1.25" fill="#ff0000"/>
<circle cx="349.4" cy="386.7" r="1.25" fill="#ff0000"/>
<circle cx="362.5" cy="365.9" r="1.25" fill="#ff0000"/>
<circle cx="359.6" cy="369.3" r="1.25" fill="#ff0000"/>
<circle cx="358.4" cy="377.3" r="1.25" fill="#ff0000"/>
<circle cx="370.3" cy="364.4" r="1.25" fill="#ff0000"/>
<circle cx="362.5" cy="366.5" r="1.25" fill="#ff0000"/>
<circle cx="363.8" cy="359.3" r="1.25" fill="#ff0000"/>
<circle cx="359.6" cy="377.1" r="1.25" fill="#ff0000"/>
<circle cx="363.9" cy="366.7" r="1.25" fill="#ff0000"/>
<circle cx="359.0" cy="380.6" r="1.25" fill="#ff0000"/>
<circle cx="369.2" cy="363.6" r="1.25" fill="#ff0000"/>
<circle cx="364.7" cy="374.2" r="1.25" fill="#ff0000"/>
<circle cx="366.7" cy="363.8" r="1.25" fill="#ff0000"/>
<circle cx="348.5" cy="390.0" r="1.25" fill="#ff0000"/>
<circle cx="353.3" cy="382.2" r="1.25" fill="#ff0000"/>
<circle cx="351.4" cy="385.5" r="1.25" fill="#ff0000"/>
<circle cx="361.6" cy="367.5" r="1.25" fill="#ff0000"/>
<circle cx="355.7" cy="384.7" r="1.25" fill="#ff0000"/>
<circle cx="364.0" cy="372.0" r="1.25" fill="#ff0000"/>
<circle cx="357.0" cy="378.6" r="1.25" fill="#ff0000"/>
<circle cx="356.0" cy="383.0" r="1.25" fill="#ff0000"/>
<circle cx="350.7" cy="388.6" r="1.25" fill="#ff0000"/>
<circle cx="352.6" cy="385.7" r="1.25" fill="#ff0000"/>
<circle cx="361.9" cy="363.3" r="1.25" fill="#ff0000"/>
<circle cx="362.6" cy="362.7" r="1.25" fill="#ff0000"/>
<circle cx="354.9" cy="380.8" r="1.25" fill="#ff0000"/>
<circle cx="362.3" cy="358.5" r="1.25" fill="#ff0000"/>
<circle cx="363.7" cy="370.6" r="1.25" fill="#ff0000"/>
<circle cx="364.5" cy="362.7" r="1.25" fill="#ff0000"/>
<circle cx="352.9" cy="382.5" r="1.25" fill="#ff0000"/>
<circle cx="360.2" cy="378.8" r="1.25" fill="#ff0000"/>
<circle cx="357.1" cy="377.1" r="1.25" fill="#ff0000"/>
<circle cx="362.8" cy="372.0" r="1.25" fill="#ff0000"/>
<circle cx="353.6" cy="386.0" r="1.25" fill="#ff0000"/>
<circle cx="359.1" cy="367.1" r="1.25" fill="#ff0000"/>
<circle cx="362.9" cy="366.9" r="1.25" fill="#ff0000"/>
<circle cx="361.8" cy="371.4" r="1.25" fill="#ff0000"/>
<circle cx="368.5" cy="360.0" r="1.25" fill="#ff0000"/>
<circle cx="361.1" cy="362.8" r="1.25" fill="#ff0000"/>
<circle cx="369.5" cy="364.3" r="1.25" fill="#ff0000"/>
<circle cx="360.5" cy="368.3" r="1.25" fill="#ff0000"/>
<circle cx="369.6" cy="360.4" r="1.25" fill="#ff0000"/>
<circle cx="366.5" cy="361.6" r="1.25" fill="#ff0000"/>
<circle cx="359.6" cy="365.1" r="1.25" fill="#ff0000"/>
<circle cx="352.7" cy="383.3" r="1.25" fill="#ff0000"/>
<circle cx="349.6" cy="390.3" r="1.25" fill="#ff0000"/>
<circle cx="348.6" cy="388.0" r="1.25" fill="#ff0000"/>
<circle cx="362.2" cy="365.9" r="1.25" fill="#ff0000"/>
<circle cx="364.2" cy="369.0" r="1.25" fill="#ff0000"/>
<circle cx="355.3" cy="381.8" r="1.25" fill="#ff0000"/>
<circle cx="352.2" cy="387.8" r="1.25" fill="#ff0000"/>
<circle cx="366.7" cy="361.5" r="1.25" fill="#ff0000"/>
<circle cx="363.8" cy="373.9" r="1.25" fill="#ff0000"/>
<circle cx="362.1" cy="368.5" r="1.25" fill="#ff0000"/>
<circle cx="349.1" cy="388.8" r="1.25" fill="#ff0000"/>
<circle cx="350.7" cy="387.0" r="1.25" fill="#ff0000"/>
<circle cx="368.2" cy="364.0" r="1.25" fill="#ff0000"/>
<circle cx="354.2" cy="381.7" r="1.25" fill="#ff0000"/>
<circle cx="364.6" cy="371.5" r="1.25" fill="#ff0000"/>
<circle cx="362.3" cy="359.1" r="1.25" fill="#ff0000"/>
<circle cx="362.4" cy="372.2" r="1.25" fill="#ff0000"/>
<circle cx="362.1" cy="358.7" r="1.25" fill="#ff0000"/>
<circle cx="362.1" cy="364.5" r="1.25" fill="#ff0000"/>
<circle cx="357.9" cy="378.6" r="1.25" fill="#ff0000"/>
<circle cx="360.0" cy="361.1" r="1.25" fill="#ff0000"/>
<circle cx="356.4" cy="384.0" r="1.25" fill="#ff0000"/>
<circle cx="363.8" cy="368.4" r="1.25" fill="#ff0000"/>
<circle cx="352.4" cy="383.2" r="1.25" fill="#ff0000"/>
<circle cx="359.6" cy="363.3" r="1.25" fill="#ff0000"/>
<circle cx="358.3" cy="376.4" r="1.25" fill="#ff0000"/>
<circle cx="350.0" cy="386.7" r="1.25" fill="#ff0000"/>
<circle cx="364.3" cy="365.7" r="1.25" fill="#ff0000"/>
<circle cx="357.3" cy="379.2" r="1.25" fill="#ff0000"/>
<circle cx="350.4" cy="386.6" r="1.25" fill="#ff0000"/>
<circle cx="365.6" cy="368.2" r="1.25" fill="#ff0000"/>
<circle cx="351.0" cy="388.9" r="1.25" fill="#ff0000"/>
<circle cx="360.3" cy="365.1" r="1.25" fill="#ff0000"/>
<circle cx="358.2" cy="376.4" r="1.25" fill="#ff0000"/>
<circle cx="357.1" cy="376.1" r="1.25" fill="#ff0000"/>
<circle cx="354.0" cy="386.5" r="1.25" fill="#ff0000"/>
<circle cx="362.5" cy="363.1" r="1.25" fill="#ff0000"/>
<circle cx="349.1" cy="388.0" r="1.25" fill="#ff0000"/>
<circle cx="352.8" cy="382.9" r="1.25" fill="#ff0000"/>
<circle cx="366.6" cy="358.0" r="1.25" fill="#ff0000"/>
<circle cx="357.5" cy="380.7" r="1.25" fill="#ff0000"/>
<circle cx="362.1" cy="370.9" r="1.25" fill="#ff0000"/>
<circle cx="361.4" cy="366.7" r="1.25" fill="#ff0000"/>
<circle cx="366.4" cy="365.8" r="1.25" fill="#ff0000"/>
<circle cx="368.9" cy="368.2" r="1.25" fill="#ff0000"/>
<circle cx="363.3" cy="372.7" r="1.25" fill="#ff0000"/>
<circle cx="353.1" cy="383.5" r="1.25" fill="#ff0000"/>
<circle cx="359.5" cy="373.1" r="1.25" fill="#ff0000"/>
<circle cx="358.7" cy="376.6" r="1.25" fill="#ff0000"/>
<circle cx="370.1" cy="364.7" r="1.25" fill="#ff0000"/>
<circle cx="363.1" cy="369.9" r="1.25" fill="#ff0000"/>
<circle cx="365.2" cy="359.0" r="1.25" fill="#ff0000"/>
<circle cx="364.2" cy="362.4" r="1.25" fill="#ff0000"/>
<circle cx="362.1" cy="372.2" r="1.25" fill="#ff0000"/>
<circle cx="362.1" cy="360.4" r="1.25" fill="#ff0000"/>
<circle cx="360.3" cy="360.5" r="1.25" fill="#ff0000"/>
<circle cx="367.1" cy="367.7" r="1.25" fill="#ff0000"/>
<circle cx="348.4" cy="389.0" r="1.25" fill="#ff0000"/>
<circle cx="361.0" cy="362.7" r="1.25" fill="#ff0000"/>
<circle cx="347.4" cy="389.6" r="1.25" fill="#ff0000"/>
<circle cx="367.9" cy="365.1" r="1.25" fill="#ff0000"/>
<circle cx="367.0" cy="368.9" r="1.25" fill="#ff0000"/>
<circle cx="357.7" cy="374.6" r="1.25" fill="#ff0000"/>
<circle cx="333.3" cy="379.6" r="1.25" fill="#ff0000"/>
<circle cx="333.2" cy="379.0" r="1.25" fill="#ff0000"/>
<circle cx="332.1" cy="380.6" r="1.25" fill="#ff0000"/>
<circle cx="344.7" cy="363.3" r="1.25" fill="#ff0000"/>
<circle cx="316.6" cy="398.3" r="1.25" fill="#ff0000"/>
<circle cx="325.6" cy="387.8" r="1.25" fill="#ff0000"/>
<circle cx="317.1" cy="397.6" r="1.25" fill="#ff0000"/>
<circle cx="327.4" cy="384.9" r="1.25" fill="#ff0000"/>
<circle cx="466.6" cy="258.9" r="1.55" fill="#d41818"/>
<circle cx="427.5" cy="290.4" r="1.55" fill="#d41818"/>
<circle cx="415.4" cy="325" r="1.55" fill="#d41818"/>
<circle cx="396" cy="326.2" r="1.55" fill="#d41818"/>
<circle cx="393.2" cy="339.5" r="1.55" fill="#d41818"/>
<circle cx="406.1" cy="339.9" r="1.55" fill="#d41818"/>
<circle cx="383.2" cy="361.7" r="1.55" fill="#d41818"/>
<circle cx="375.5" cy="331.9" r="1.55" fill="#d41818"/>
<circle cx="376.6" cy="336.4" r="1.55" fill="#d41818"/>
<circle cx="379.3" cy="340.4" r="1.55" fill="#d41818"/>
<circle cx="364.8" cy="341.2" r="1.55" fill="#d41818"/>
<circle cx="377.5" cy="342.8" r="1.55" fill="#d41818"/>
<circle cx="376.2" cy="344.8" r="1.55" fill="#d41818"/>
<circle cx="364.1" cy="345.2" r="1.55" fill="#d41818"/>
<circle cx="369.9" cy="344.2" r="1.55" fill="#d41818"/>
<circle cx="371.5" cy="346.8" r="1.55" fill="#d41818"/>
<circle cx="373.5" cy="348.2" r="1.55" fill="#d41818"/>
<circle cx="376.8" cy="348.9" r="1.55" fill="#d41818"/>
<circle cx="370.1" cy="350.9" r="1.55" fill="#d41818"/>
<circle cx="363.4" cy="354.2" r="1.55" fill="#d41818"/>
<circle cx="365.4" cy="355.2" r="1.55" fill="#d41818"/>
<circle cx="371.5" cy="355.2" r="1.55" fill="#d41818"/>
<circle cx="355.4" cy="356.9" r="1.55" fill="#d41818"/>
<circle cx="374.8" cy="359.6" r="1.55" fill="#d41818"/>
<circle cx="383.3" cy="362" r="1.55" fill="#d41818"/>
<circle cx="373.5" cy="364.3" r="1.55" fill="#d41818"/>
<circle cx="369.5" cy="369.7" r="1.55" fill="#d41818"/>
<circle cx="326.5" cy="385" r="1.55" fill="#d41818"/>
<line x1="307.1" y1="251.4" x2="307.1" y2="415.55" stroke="#000" stroke-width="1.65"/>
<line x1="306.35" y1="414.8" x2="475" y2="414.8" stroke="#000" stroke-width="1.65"/>
<line x1="303.6" y1="407.0" x2="307.1" y2="407.0" stroke="#000" stroke-width="1.65"/>
<g transform="translate(300.30,411.65)"><text transform="scale(1.079,1)" xml:space="preserve"><tspan x="-16.97 -9.89 -6.25" y="0.00" font-size="12.32">0.0</tspan></text></g>
<line x1="303.6" y1="376.06" x2="307.1" y2="376.06" stroke="#000" stroke-width="1.65"/>
<g transform="translate(300.30,380.71)"><text transform="scale(1.052,1)" xml:space="preserve"><tspan x="-17.08 -9.87 -6.13" y="0.00" font-size="12.32">0.5</tspan></text></g>
<line x1="303.6" y1="345.12" x2="307.1" y2="345.12" stroke="#000" stroke-width="1.65"/>
<g transform="translate(300.30,349.77)"><text transform="scale(1.059,1)" xml:space="preserve"><tspan x="-17.30 -10.05 -6.31" y="0.00" font-size="12.32">1.0</tspan></text></g>
<line x1="303.6" y1="314.18" x2="307.1" y2="314.18" stroke="#000" stroke-width="1.65"/>
<g transform="translate(300.30,318.83)"><text transform="scale(1.030,1)" xml:space="preserve"><tspan x="-17.43 -10.04 -6.18" y="0.00" font-size="12.32">1.5</tspan></text></g>
<line x1="303.6" y1="283.24" x2="307.1" y2="283.24" stroke="#000" stroke-width="1.65"/>
<g transform="translate(300.30,287.89)"><text transform="scale(1.062,1)" xml:space="preserve"><tspan x="-17.34 -10.03 -6.30" y="0.00" font-size="12.32">2.0</tspan></text></g>
<line x1="303.6" y1="252.29999999999998" x2="307.1" y2="252.29999999999998" stroke="#000" stroke-width="1.65"/>
<g transform="translate(300.30,256.95)"><text transform="scale(1.034,1)" xml:space="preserve"><tspan x="-17.47 -10.01 -6.17" y="0.00" font-size="12.32">2.5</tspan></text></g>
<line x1="314.8" y1="414.8" x2="314.8" y2="418.3" stroke="#000" stroke-width="1.65"/>
<g transform="translate(314.80,429.60)"><text transform="scale(1.079,1)" xml:space="preserve"><tspan x="-8.78 -1.71 1.93" y="0.00" font-size="12.32">0.0</tspan></text></g>
<line x1="370.65000000000003" y1="414.8" x2="370.65000000000003" y2="418.3" stroke="#000" stroke-width="1.65"/>
<g transform="translate(370.65,429.60)"><text transform="scale(1.052,1)" xml:space="preserve"><tspan x="-8.80 -1.59 2.15" y="0.00" font-size="12.32">0.5</tspan></text></g>
<line x1="426.5" y1="414.8" x2="426.5" y2="418.3" stroke="#000" stroke-width="1.65"/>
<g transform="translate(426.50,429.60)"><text transform="scale(1.059,1)" xml:space="preserve"><tspan x="-9.21 -1.96 1.79" y="0.00" font-size="12.32">1.0</tspan></text></g>
<g transform="translate(310.50,443.90)"><text transform="scale(1.123,1)" xml:space="preserve"><tspan x="-1.27 4.82 11.49 18.20 25.40 29.22 36.00" y="0.00" font-size="12.19">Length </tspan></text><text transform="scale(1.178,1)" xml:space="preserve"><tspan x="37.29 44.01 47.39" y="0.00" font-size="12.19">of </tspan></text><text transform="scale(0.974,1)" xml:space="preserve"><tspan x="61.01 69.87 78.57 88.80 97.81 103.99" y="0.00" font-size="12.19">CRMCs </tspan></text><text transform="scale(1.047,1)" xml:space="preserve"><tspan x="100.42" y="-0.18" font-size="11.58">(</tspan><tspan x="105.40" y="0.83" font-size="14.62">×</tspan><tspan x="114.67 122.02" y="0.00" font-size="12.19">10</tspan><tspan x="129.32" y="-4.59" font-size="8.53">5</tspan><tspan x="134.91 142.18" y="0.00" font-size="12.19">bp</tspan><tspan x="149.74" y="-0.18" font-size="11.58">)</tspan></text></g>
<g transform="translate(277.50,406.40) rotate(-90)"><text transform="scale(1.119,1)" xml:space="preserve"><tspan x="-1.46 6.95 13.93 24.28 30.95 37.98 42.03" y="0.00" font-size="12.28">Number </tspan></text><text transform="scale(1.178,1)" xml:space="preserve"><tspan x="42.89 49.61 52.99" y="0.00" font-size="12.28">of </tspan></text><text transform="scale(0.977,1)" xml:space="preserve"><tspan x="67.83 75.11 82.51 90.70 98.84 105.02" y="0.00" font-size="12.28">TFBSs </tspan></text><text transform="scale(1.031,1)" xml:space="preserve"><tspan x="103.22" y="-0.18" font-size="11.66">(</tspan><tspan x="108.31" y="0.83" font-size="14.73">×</tspan><tspan x="117.71 125.17" y="0.00" font-size="12.28">10</tspan><tspan x="132.60" y="-4.59" font-size="8.59">4</tspan><tspan x="138.52" y="-0.18" font-size="11.66">)</tspan></text></g>
<g transform="translate(377.40,263.80)"><text transform="scale(1.055,1)" xml:space="preserve"><tspan x="-1.31 8.88 16.01 23.10 29.23" y="0.00" font-size="12.32">Mouse</tspan></text></g>
<g transform="translate(396.90,393.80)"><text transform="scale(1.112,1)" xml:space="preserve"><tspan x="-1.46 8.05 16.21 22.81 29.89 36.70 40.29 47.23 54.16" y="0.00" font-size="12.38">N=920,068</tspan></text></g>
<g transform="translate(256.20,252.10)"><text transform="scale(1.057,1)" xml:space="preserve" stroke="#000" stroke-width="0.35"><tspan x="-1.71" y="0.00" font-size="18.33">D</tspan></text></g>
</svg>
</body></html>
